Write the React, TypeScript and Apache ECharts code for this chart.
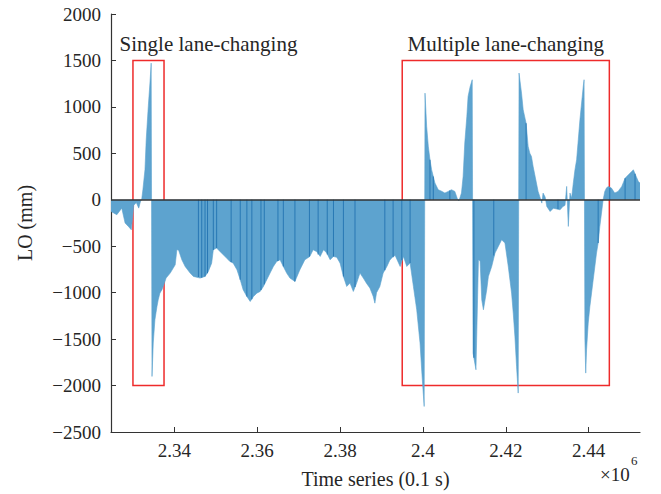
import React, { useEffect, useRef } from "react";
import * as echarts from "echarts";

// Time index (0.1 s) and lateral offset LO (mm)
const timeIndex = [
  2324700, 2326100, 2327300, 2328100, 2328900, 2329600, 2329900, 2330200, 2330800, 2331400,
  2331800, 2332100, 2332400, 2332900, 2333200, 2333700, 2334100, 2334400, 2334600, 2334900,
  2335300, 2335800, 2336100, 2336500, 2337000, 2337300, 2337600, 2338000, 2339000, 2340200,
  2340600, 2341000, 2341800, 2342600, 2343800, 2344600, 2346200, 2347400, 2348200, 2349000,
  2349400, 2350200, 2351000, 2351800, 2352600, 2353400, 2354200, 2355100, 2355900, 2356600,
  2357500, 2358300, 2359100, 2359900, 2360700, 2361500, 2362300, 2363100, 2363900, 2364700,
  2365500, 2366300, 2367100, 2367900, 2369100, 2370300, 2371500, 2372700, 2373500, 2374400,
  2375200, 2376000, 2376800, 2377600, 2378400, 2379200, 2380000, 2380800, 2381600, 2382400,
  2383200, 2384000, 2384800, 2385600, 2386400, 2387200, 2388000, 2388400, 2388800, 2389600,
  2390400, 2391300, 2392000, 2392800, 2393300, 2394500, 2395300, 2396100, 2396900, 2397700,
  2398500, 2399300, 2399800, 2400300, 2400500, 2400900, 2401300, 2401700, 2402100, 2402500,
  2402900, 2403700, 2404500, 2405300, 2406100, 2406900, 2407700, 2408400, 2408700, 2409300,
  2409700, 2410100, 2410600, 2410900, 2411400, 2411900, 2412100, 2412800, 2413400, 2413800,
  2414200, 2414600, 2415000, 2415400, 2415800, 2416600, 2417400, 2418200, 2419000, 2419800,
  2420600, 2421400, 2421800, 2422200, 2422600, 2423000, 2423200, 2423800, 2424200, 2424900,
  2425400, 2425800, 2426200, 2426600, 2427400, 2427800, 2428200, 2428700, 2429000, 2429500,
  2429900, 2430700, 2431500, 2432300, 2433100, 2433800, 2434300, 2434700, 2435100, 2435500,
  2435900, 2436300, 2436700, 2437100, 2437500, 2437900, 2438300, 2438700, 2438900, 2439100,
  2439300, 2439500, 2439900, 2440300, 2440700, 2441100, 2441500, 2441900, 2442300, 2442700,
  2443100, 2443500, 2443900, 2444300, 2444700, 2445500, 2446300, 2447100, 2448000, 2448800,
  2449600, 2450400, 2450800, 2451200, 2452000, 2452400,
];
const loValues = [
  -126, -161, -90, -251, -287, -323, -200, -60, -30, -90,
  -20, 0, 108, 323, 646, 1005, 1256, 1471, -1902, -1543,
  -1292, -1148, -1077, -1005, -969, -933, -897, -843, -789, -700,
  -538, -540, -646, -718, -789, -825, -843, -825, -771, -682,
  -538, -520, -556, -592, -628, -664, -682, -753, -861, -969,
  -1041, -1095, -1041, -1005, -987, -933, -861, -789, -718, -664,
  -646, -718, -789, -843, -879, -753, -646, -610, -538, -560,
  -610, -538, -574, -646, -610, -620, -682, -825, -933, -897,
  -987, -897, -789, -843, -900, -951, -1041, -1113, -1000, -933,
  -789, -718, -650, -610, -600, -718, -610, -718, -680, -933,
  -1184, -1543, -1902, -2225, 1148, 789, 574, 431, 323, 251,
  180, 108, 92, 72, 90, 108, 90, 0, -10, 72,
  251, 610, 897, 1113, 1220, 1292, -1651, -1830, -646, -660,
  -1077, -1184, -1077, -969, -825, -718, -574, -502, -431, -466,
  -718, -1005, -1220, -1471, -1794, -2081, 1364, 1148, 969, 825,
  574, 502, 466, 359, 180, 90, 36, -36, 72, 30,
  -72, -126, -90, -100, -108, -72, -60, 144, -287, 72,
  20, 180, 323, 431, 646, 861, 1041, 1220, 1292, -1500,
  -1866, -1615, -1328, -1148, -1005, -861, -718, -574, -466, -287,
  -144, 0, 90, 126, 144, 126, 72, 90, 144, 233,
  269, 305, 323, 280, 197, 180,
];

// Darker individual bars visible inside the filled area
const stripeTimes = [
  2345800, 2346600, 2347400, 2348000, 2349400, 2350200, 2353700, 2355900, 2357500, 2358700,
  2360900, 2361700, 2365000, 2366300, 2369100, 2372600, 2374700, 2376900, 2378400, 2380800,
  2383600, 2390800, 2392800, 2394900, 2396900, 2401700, 2402500, 2406500, 2412300, 2417100,
  2424900, 2432600, 2442300, 2445100, 2448800, 2451200,
];
const stripeValues = [
  -830, -840, -825, -790, -540, -520, -670, -860, -1040, -1070,
  -970, -910, -660, -718, -880, -610, -590, -590, -610, -825,
  -940, -760, -620, -650, -680, 431, 251, 100, -1700, -600,
  825, -100, -466, 130, 233, 280,
];

const xTickValues = [2340000, 2360000, 2380000, 2400000, 2420000, 2440000];
const yTickMin = -2500;
const yTickMax = 2000;
const yTickStep = 500;

const boxLabels = ["Single lane-changing", "Multiple lane-changing"];
const boxStart = [2330000, 2395000];
const boxEnd = [2337500, 2445000];
const boxTop = 1500;
const boxBottom = -2000;

const xLabel = "Time series (0.1 s)";
const yLabel = "LO (mm)";

export default function App() {
  const ref = useRef<HTMLDivElement>(null);
  useEffect(() => {
    const chart = echarts.init(ref.current!, null, { renderer: "svg" });
    const font = "'Liberation Serif', 'DejaVu Serif', serif";
    const ink = "#262626";
    const fill = "#5da3cf";
    const dark = "#2878b4";
    chart.setOption({
      animation: false,
      backgroundColor: "#fff",
      grid: { left: 111, right: 21, top: 14, bottom: 62, containLabel: false },
      xAxis: {
        type: "value",
        min: timeIndex[0],
        max: timeIndex[timeIndex.length - 1],
        axisLine: { show: true, onZero: false, lineStyle: { color: "#333", width: 1.2 } },
        axisTick: { show: true, inside: true, length: 5, customValues: xTickValues, lineStyle: { color: "#333" } },
        axisLabel: {
          customValues: xTickValues,
          formatter: (v: number) => String(+(v / 1e6).toFixed(2)),
          color: ink,
          fontFamily: font,
          fontSize: 19,
          margin: 9,
        },
        splitLine: { show: false },
        name: xLabel,
        nameLocation: "middle",
        nameGap: 37,
        nameTextStyle: { fontFamily: font, fontSize: 20, color: ink },
      },
      yAxis: {
        type: "value",
        min: yTickMin,
        max: yTickMax,
        interval: yTickStep,
        axisLine: { show: true, lineStyle: { color: "#333", width: 1.2 } },
        axisTick: { show: true, inside: true, length: 5, lineStyle: { color: "#333" } },
        axisLabel: {
          formatter: (v: number) => (v < 0 ? "\u2212" + Math.abs(v) : String(v)),
          color: ink,
          fontFamily: font,
          fontSize: 19,
          margin: 10,
        },
        splitLine: { show: false },
        name: yLabel,
        nameLocation: "middle",
        nameGap: 76,
        nameRotate: 90,
        nameTextStyle: { fontFamily: font, fontSize: 20, color: ink },
      },
      series: [
        {
          type: "line",
          data: timeIndex.map((t, i) => [t, loValues[i]]),
          showSymbol: false,
          symbol: "none",
          lineStyle: { width: 0.6, color: fill },
          areaStyle: { color: fill, opacity: 1, origin: 0 },
          z: 2,
        },
        {
          type: "bar",
          data: stripeTimes.map((t, i) => [t, stripeValues[i]]),
          barWidth: 1,
          itemStyle: { color: dark },
          z: 3,
        },
        {
          type: "line",
          data: [],
          z: 10,
          markLine: {
            silent: true,
            symbol: "none",
            label: { show: false },
            lineStyle: { color: "#333", width: 1.5, type: "solid" },
            data: [{ yAxis: 0 }],
          },
          markArea: {
            silent: true,
            itemStyle: { color: "rgba(0,0,0,0)", borderColor: "#ee2b2b", borderWidth: 1.5 },
            label: {
              show: true,
              position: "top",
              distance: 5,
              fontFamily: font,
              fontSize: 21,
              color: ink,
            },
            data: boxLabels.map((name, i) => [
              { name, coord: [boxStart[i], boxTop], label: i === 0 ? { offset: [60, 0] } : {} },
              { coord: [boxEnd[i], boxBottom] },
            ]),
          },
        },
      ],
      graphic: [
        { type: "text", left: 600, top: 465, style: { text: "\u00d710", font: "19px 'Liberation Serif'", fill: ink } },
        { type: "text", left: 631, top: 454, style: { text: "6", font: "13px 'Liberation Serif'", fill: ink } },
      ],
    });
    return () => chart.dispose();
  }, []);
  return (
    <div
      ref={ref}
      style={{ position: "fixed", left: 0, top: 0, width: 661, height: 494, background: "#fff" }}
    />
  );
}
